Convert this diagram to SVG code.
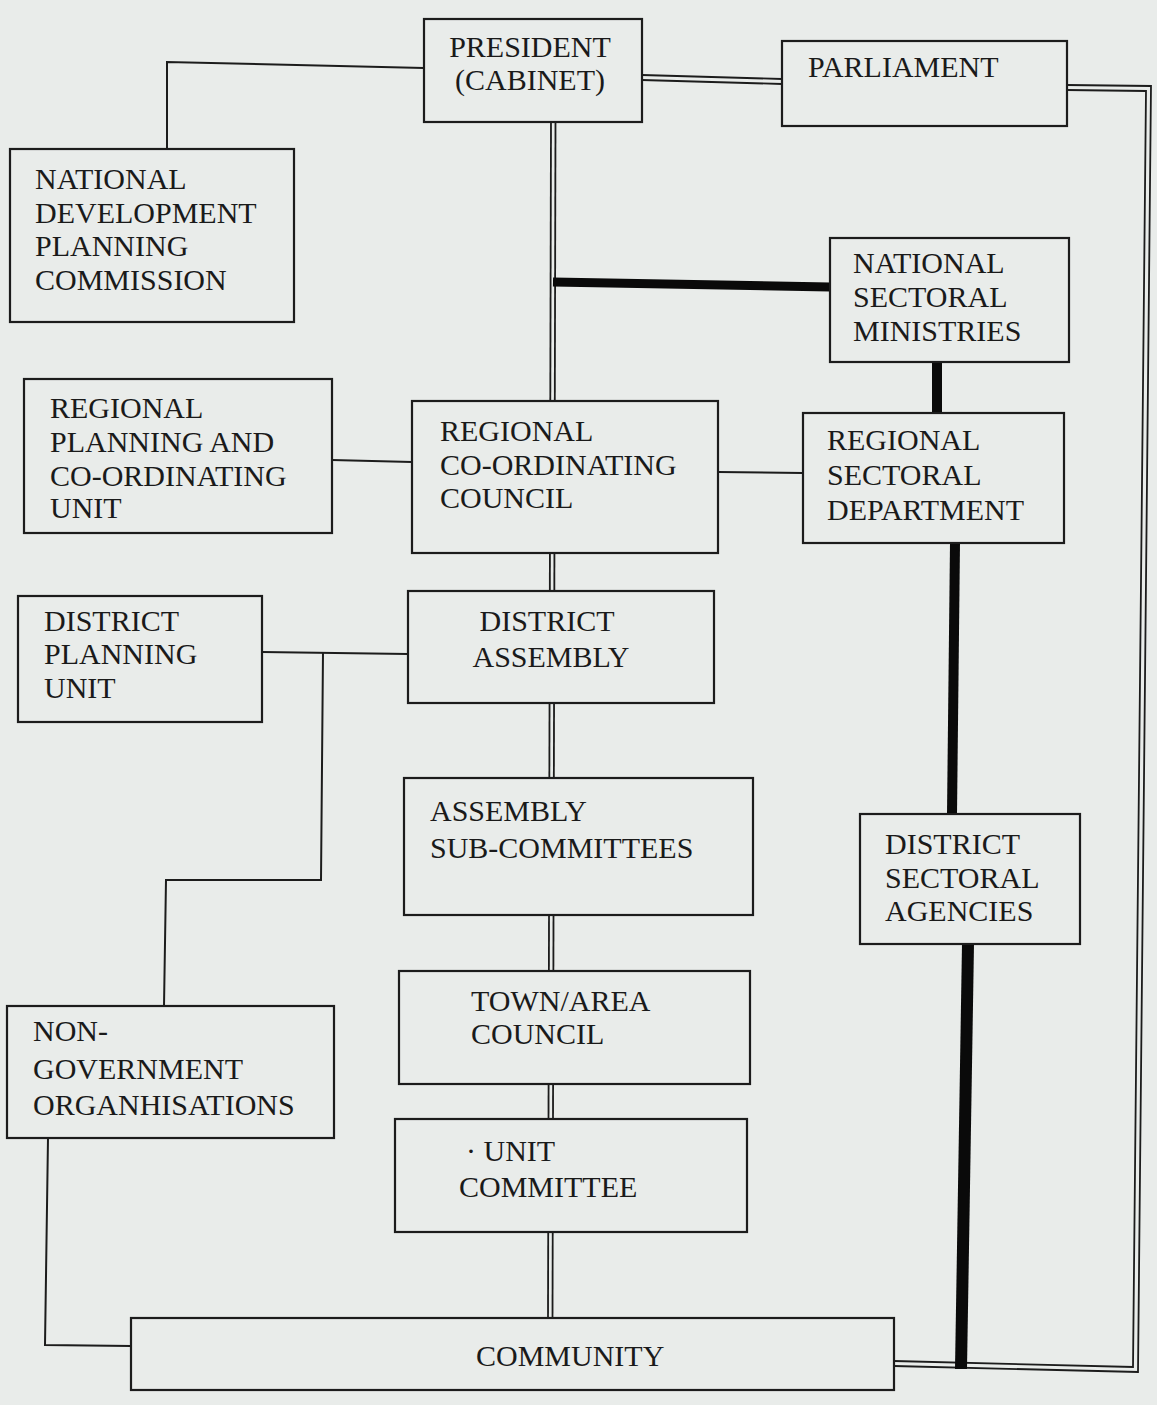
<svg xmlns="http://www.w3.org/2000/svg" width="1157" height="1405" viewBox="0 0 1157 1405">
<style>
.bg{fill:#e9ecea}
.box{fill:#e9ecea;stroke:#1c1c1c;stroke-width:2.2}
.t{font-family:"Liberation Serif","Times New Roman",serif;font-size:30px;fill:#1a1a1a}
.m{text-anchor:middle}
.thin{fill:none;stroke:#1c1c1c;stroke-width:2}
.dbl{fill:none;stroke:#1c1c1c;stroke-width:1.8}
.thick{fill:none;stroke:#0a0a0a}
</style>
<rect class="bg" x="0" y="0" width="1157" height="1405"/>

<g id="connectors">
  <polyline class="thin" points="424,68 167,62 167,155"/>
  <line class="dbl" x1="642" y1="75" x2="782" y2="79"/>
  <line class="dbl" x1="642" y1="80" x2="782" y2="84"/>
  <polyline class="dbl" points="1067,85 1151,86 1138,1372 894,1366"/>
  <polyline class="dbl" points="1067,90 1146,91 1133,1367 894,1361"/>
  <line class="dbl" x1="551" y1="122" x2="548" y2="1318"/>
  <line class="dbl" x1="555.5" y1="122" x2="552.5" y2="1318"/>
  <line class="thick" stroke-width="9" x1="553" y1="282" x2="830" y2="287"/>
  <line class="thick" stroke-width="10" x1="937" y1="362" x2="937" y2="413"/>
  <line class="thick" stroke-width="10" x1="955" y1="543" x2="952" y2="814"/>
  <line class="thick" stroke-width="12" x1="968" y1="944" x2="961" y2="1369"/>
  <line class="thin" x1="332" y1="460" x2="412" y2="462"/>
  <line class="thin" x1="718" y1="472" x2="803" y2="473"/>
  <line class="thin" x1="262" y1="652" x2="408" y2="654"/>
  <polyline class="thin" points="323,652 321,880 166,880 164,1006"/>
  <polyline class="thin" points="48,1138 45,1345 131,1346"/>
</g>

<g id="president">
  <rect class="box" x="424" y="19" width="218" height="103"/>
  <text class="t m" x="530" y="57">PRESIDENT</text>
  <text class="t m" x="530" y="90">(CABINET)</text>
</g>
<g id="parliament">
  <rect class="box" x="782" y="41" width="285" height="85"/>
  <text class="t" x="808" y="77">PARLIAMENT</text>
</g>
<g id="ndpc">
  <rect class="box" x="10" y="149" width="284" height="173"/>
  <text class="t" x="35" y="189">NATIONAL</text>
  <text class="t" x="35" y="223">DEVELOPMENT</text>
  <text class="t" x="35" y="256">PLANNING</text>
  <text class="t" x="35" y="290">COMMISSION</text>
</g>
<g id="nsm">
  <rect class="box" x="830" y="238" width="239" height="124"/>
  <text class="t" x="853" y="273">NATIONAL</text>
  <text class="t" x="853" y="307">SECTORAL</text>
  <text class="t" x="853" y="341">MINISTRIES</text>
</g>
<g id="rpcu">
  <rect class="box" x="24" y="379" width="308" height="154"/>
  <text class="t" x="50" y="418">REGIONAL</text>
  <text class="t" x="50" y="452">PLANNING AND</text>
  <text class="t" x="50" y="486">CO-ORDINATING</text>
  <text class="t" x="50" y="518">UNIT</text>
</g>
<g id="rcc">
  <rect class="box" x="412" y="401" width="306" height="152"/>
  <text class="t" x="440" y="441">REGIONAL</text>
  <text class="t" x="440" y="475">CO-ORDINATING</text>
  <text class="t" x="440" y="508">COUNCIL</text>
</g>
<g id="rsd">
  <rect class="box" x="803" y="413" width="261" height="130"/>
  <text class="t" x="827" y="450">REGIONAL</text>
  <text class="t" x="827" y="485">SECTORAL</text>
  <text class="t" x="827" y="520">DEPARTMENT</text>
</g>
<g id="dpu">
  <rect class="box" x="18" y="596" width="244" height="126"/>
  <text class="t" x="44" y="631">DISTRICT</text>
  <text class="t" x="44" y="664">PLANNING</text>
  <text class="t" x="44" y="698">UNIT</text>
</g>
<g id="da">
  <rect class="box" x="408" y="591" width="306" height="112"/>
  <text class="t m" x="547" y="631">DISTRICT</text>
  <text class="t m" x="551" y="667">ASSEMBLY</text>
</g>
<g id="asc">
  <rect class="box" x="404" y="778" width="349" height="137"/>
  <text class="t" x="430" y="821">ASSEMBLY</text>
  <text class="t" x="430" y="858">SUB-COMMITTEES</text>
</g>
<g id="dsa">
  <rect class="box" x="860" y="814" width="220" height="130"/>
  <text class="t" x="885" y="854">DISTRICT</text>
  <text class="t" x="885" y="888">SECTORAL</text>
  <text class="t" x="885" y="921">AGENCIES</text>
</g>
<g id="tac">
  <rect class="box" x="399" y="971" width="351" height="113"/>
  <text class="t" x="471" y="1011">TOWN/AREA</text>
  <text class="t" x="471" y="1044">COUNCIL</text>
</g>
<g id="uc">
  <rect class="box" x="395" y="1119" width="352" height="113"/>
  <text class="t" x="466" y="1161">· UNIT</text>
  <text class="t" x="459" y="1197">COMMITTEE</text>
</g>
<g id="ngo">
  <rect class="box" x="7" y="1006" width="327" height="132"/>
  <text class="t" x="33" y="1041">NON-</text>
  <text class="t" x="33" y="1079">GOVERNMENT</text>
  <text class="t" x="33" y="1115">ORGANHISATIONS</text>
</g>
<g id="community">
  <rect class="box" x="131" y="1318" width="763" height="72"/>
  <text class="t" x="476" y="1366">COMMUNITY</text>
</g>
</svg>
